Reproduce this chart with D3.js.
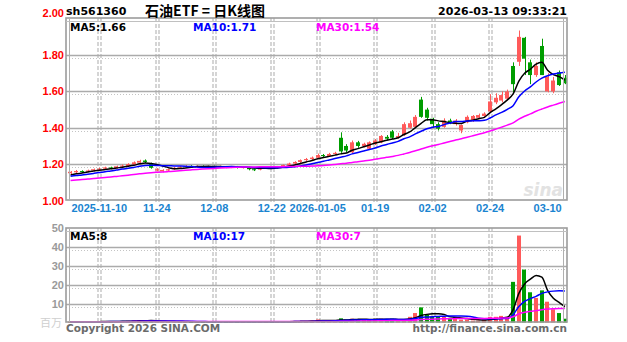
<!DOCTYPE html>
<html><head><meta charset="utf-8">
<script src="https://cdn.jsdelivr.net/npm/d3@7"></script>
<style>
body{margin:0;background:#fff}
svg{display:block;font-family:"DejaVu Sans",Arial,sans-serif}
</style>
</head><body><svg id="c" width="627" height="342"></svg>
<script>
// Daily K-line for sh561360, trading days 2025-11-03 .. 2026-03-13
const dates = [
 "2025-11-03","2025-11-04","2025-11-05","2025-11-06","2025-11-07","2025-11-10","2025-11-11","2025-11-12","2025-11-13","2025-11-14",
 "2025-11-17","2025-11-18","2025-11-19","2025-11-20","2025-11-21","2025-11-24","2025-11-25","2025-11-26","2025-11-27","2025-11-28",
 "2025-12-01","2025-12-02","2025-12-03","2025-12-04","2025-12-05","2025-12-08","2025-12-09","2025-12-10","2025-12-11","2025-12-12",
 "2025-12-15","2025-12-16","2025-12-17","2025-12-18","2025-12-19","2025-12-22","2025-12-23","2025-12-24","2025-12-25","2025-12-26",
 "2025-12-29","2025-12-30","2025-12-31","2026-01-05","2026-01-06","2026-01-07","2026-01-08","2026-01-09","2026-01-12","2026-01-13",
 "2026-01-14","2026-01-15","2026-01-16","2026-01-19","2026-01-20","2026-01-21","2026-01-22","2026-01-23","2026-01-26","2026-01-27",
 "2026-01-28","2026-01-29","2026-01-30","2026-02-02","2026-02-03","2026-02-04","2026-02-05","2026-02-06","2026-02-09","2026-02-10",
 "2026-02-11","2026-02-12","2026-02-13","2026-02-24","2026-02-25","2026-02-26","2026-02-27","2026-03-02","2026-03-03","2026-03-04",
 "2026-03-05","2026-03-06","2026-03-09","2026-03-10","2026-03-11","2026-03-12","2026-03-13"
];
const open = [
 1.150,1.155,1.162,1.158,1.165,1.170,1.175,1.182,1.178,1.186,
 1.190,1.198,1.208,1.220,1.205,1.165,1.160,1.165,1.172,1.180,
 1.186,1.190,1.186,1.190,1.185,1.188,1.184,1.188,1.183,1.186,
 1.182,1.184,1.172,1.170,1.178,1.182,1.180,1.186,1.195,1.203,
 1.212,1.222,1.228,1.235,1.250,1.244,1.256,1.345,1.300,1.265,
 1.320,1.300,1.285,1.310,1.320,1.350,1.380,1.345,1.360,1.400,
 1.405,1.555,1.500,1.450,1.420,1.405,1.440,1.420,1.385,1.430,
 1.440,1.455,1.465,1.490,1.540,1.550,1.560,1.740,1.763,1.895,
 1.760,1.690,1.850,1.600,1.600,1.705,1.675
];
const high = [
 1.162,1.168,1.166,1.170,1.176,1.180,1.186,1.186,1.192,1.198,
 1.205,1.215,1.224,1.226,1.208,1.178,1.172,1.176,1.184,1.190,
 1.195,1.194,1.194,1.193,1.192,1.192,1.192,1.190,1.190,1.190,
 1.188,1.186,1.176,1.182,1.186,1.186,1.190,1.198,1.208,1.216,
 1.226,1.234,1.242,1.258,1.256,1.262,1.268,1.375,1.310,1.330,
 1.328,1.318,1.325,1.338,1.360,1.360,1.388,1.372,1.430,1.440,
 1.470,1.570,1.510,1.455,1.430,1.452,1.450,1.448,1.418,1.468,
 1.470,1.478,1.485,1.585,1.590,1.600,1.610,1.760,1.935,1.900,
 1.775,1.760,1.890,1.700,1.680,1.715,1.690
];
const low = [
 1.145,1.150,1.152,1.155,1.160,1.165,1.170,1.172,1.175,1.182,
 1.186,1.195,1.204,1.206,1.175,1.160,1.155,1.160,1.168,1.176,
 1.182,1.182,1.182,1.180,1.180,1.180,1.178,1.178,1.178,1.176,
 1.176,1.166,1.162,1.166,1.174,1.176,1.176,1.182,1.190,1.198,
 1.206,1.216,1.222,1.230,1.236,1.240,1.250,1.262,1.265,1.260,
 1.290,1.292,1.280,1.305,1.315,1.332,1.338,1.340,1.355,1.395,
 1.400,1.455,1.440,1.400,1.385,1.400,1.420,1.412,1.370,1.425,
 1.432,1.448,1.460,1.485,1.530,1.540,1.550,1.590,1.740,1.690,
 1.640,1.680,1.690,1.595,1.590,1.630,1.640
];
const close = [
 1.158,1.162,1.157,1.165,1.172,1.175,1.182,1.178,1.188,1.192,
 1.200,1.210,1.218,1.212,1.180,1.172,1.168,1.172,1.180,1.186,
 1.190,1.186,1.190,1.185,1.188,1.184,1.188,1.183,1.186,1.182,
 1.184,1.172,1.168,1.178,1.182,1.180,1.186,1.195,1.203,1.212,
 1.222,1.228,1.236,1.250,1.244,1.256,1.262,1.270,1.275,1.320,
 1.300,1.312,1.320,1.330,1.355,1.340,1.345,1.355,1.420,1.425,
 1.460,1.460,1.455,1.420,1.395,1.440,1.430,1.440,1.415,1.460,
 1.465,1.470,1.478,1.545,1.565,1.580,1.600,1.640,1.900,1.780,
 1.690,1.740,1.690,1.680,1.660,1.635,1.645
];
// volume in millions
const volume = [
 0.4,0.5,0.3,0.4,0.6,0.5,0.7,0.4,0.6,0.8,
 0.9,1.0,1.2,0.8,1.1,0.6,0.5,0.4,0.5,0.6,
 0.4,0.3,0.4,0.3,0.3,0.4,0.3,0.4,0.3,0.3,
 0.4,0.6,0.5,0.4,0.3,0.3,0.4,0.5,0.6,0.7,
 0.8,0.7,0.9,1.6,1.0,0.9,1.2,2.2,1.5,2.0,
 1.4,1.5,1.8,1.6,2.0,1.5,2.0,1.0,1.5,3.0,
 5.0,8.0,4.0,3.0,3.0,3.0,2.5,2.0,1.5,1.5,
 1.0,1.0,1.5,3.0,3.0,3.5,3.0,21.5,46.0,28.0,
 16.0,13.0,17.0,11.0,7.0,5.0,2.0
];
// sessions before 2025-11-03, used only to seed the moving averages
const earlierCloses = [
 1.075,1.080,1.078,1.085,1.090,1.088,1.095,1.092,1.098,1.100,
 1.097,1.103,1.105,1.100,1.108,1.110,1.106,1.112,1.115,1.118,
 1.120,1.125,1.122,1.128,1.130,1.132,1.135,1.138,1.140
];
const earlierVolumes = [
 0.5,0.4,0.6,0.5,0.4,0.3,0.5,0.4,0.3,0.4,
 0.3,0.4,0.5,0.3,0.4,0.3,0.3,0.4,0.3,0.4,
 0.5,0.4,0.3,0.4,0.5,0.4,0.3,0.4,0.5
];
const priceTicks = [1.0, 1.2, 1.4, 1.6, 1.8, 2.0];
const volumeTicks = [10, 20, 30, 40, 50];
const tickDates = ["2025-11-10","2025-11-24","2025-12-08","2025-12-22","2026-01-05","2026-01-19","2026-02-02","2026-02-24","2026-03-10"];
const tickLabels = ["2025-11-10","11-24","12-08","12-22","2026-01-05","01-19","02-02","02-24","03-10"];
const maPeriods = [5, 10, 30];
const maColors = ["#000000", "#0000ff", "#ff00ff"];

const UP = "#ff5a5a", DOWN = "#009d00", GRID = "#ababab";
const svg = d3.select("#c");

const x = d3.scaleBand().domain(dates).range([68.4, 567]).paddingInner(0.25);
const cx = d => x(d) + x.bandwidth() / 2;
const yP = d3.scaleLinear().domain([1.0, 2.0]).range([200.5, 18.7]);
const yV = d3.scaleLinear().domain([0, 50]).range([322.5, 228]);

function movingAvg(series, earlier, n) {
  const all = earlier.concat(series);
  const off = earlier.length;
  return series.map((_, i) => d3.mean(all.slice(off + i - n + 1, off + i + 1)));
}
const priceMA = maPeriods.map(n => movingAvg(close, earlierCloses, n));
const volMA = maPeriods.map(n => movingAvg(volume, earlierVolumes, n));

const panels = [
  {top: 18, bottom: 200, y: yP},
  {top: 228, bottom: 322, y: yV}
];

// grid
panels.forEach((p, k) => {
  const g = svg.append("g");
  const hv = k === 0 ? priceTicks.filter(v => v > 1.0 && v < 2.0) : volumeTicks.filter(v => v < 50);
  hv.forEach(v => {
    const yy = Math.round(p.y(v)) + 0.5;
    g.append("line").attr("x1", 66).attr("x2", 567).attr("y1", yy).attr("y2", yy)
      .attr("stroke", GRID).attr("stroke-width", 1.6);
    g.append("line").attr("x1", 66).attr("x2", 567).attr("y1", yy + 3).attr("y2", yy + 3)
      .attr("stroke", "#c4c4c4").attr("stroke-width", 1).attr("stroke-dasharray", "1,2");
  });
  tickDates.slice(0, -1).forEach(d => {
    const xx = Math.round(cx(d)) + 0.5;
    [-1.5, 1.5].forEach(o => {
      g.append("line").attr("x1", xx + o).attr("x2", xx + o).attr("y1", p.top).attr("y2", p.bottom + (k === 0 ? 3 : 0))
        .attr("stroke", GRID).attr("stroke-width", 1).attr("stroke-dasharray", "4,2");
    });
  });
});

// watermark
svg.append("text").attr("x", 563).attr("y", 196).attr("text-anchor", "end")
  .attr("font-size", 17).attr("font-weight", "bold").attr("font-style", "italic")
  .attr("fill", "#e2e2e2").text("sina");

// candles
const cg = svg.append("g");
dates.forEach((d, i) => {
  const up = close[i] >= open[i];
  const col = up ? UP : DOWN;
  const xm = Math.round(cx(d)) + 0.5;
  cg.append("line").attr("x1", xm).attr("x2", xm)
    .attr("y1", yP(high[i])).attr("y2", yP(low[i])).attr("stroke", col).attr("stroke-width", 1);
  const y0 = yP(Math.max(open[i], close[i])), y1 = yP(Math.min(open[i], close[i]));
  cg.append("rect").attr("x", Math.round(x(d))).attr("width", Math.max(3, Math.round(x.bandwidth())))
    .attr("y", y0).attr("height", Math.max(1, y1 - y0)).attr("fill", col);
});

// volume bars
const vg = svg.append("g");
dates.forEach((d, i) => {
  const up = close[i] >= open[i];
  vg.append("rect").attr("x", Math.round(x(d))).attr("width", Math.max(3, Math.round(x.bandwidth())))
    .attr("y", yV(volume[i])).attr("height", Math.max(1, yV(0) - yV(volume[i])))
    .attr("fill", up ? UP : DOWN);
});

// moving average lines
[priceMA, volMA].forEach((set, k) => {
  const yy = k === 0 ? yP : yV;
  const line = d3.line().x((v, i) => cx(dates[i])).y(v => yy(v)).curve(d3.curveMonotoneX);
  set.forEach((vals, j) => {
    svg.append("path").attr("d", line(vals)).attr("fill", "none")
      .attr("stroke", maColors[j]).attr("stroke-width", 1.5);
  });
});

// frames (double rule)
panels.forEach(p => {
  svg.append("rect").attr("x", 66).attr("y", p.top).attr("width", 501).attr("height", p.bottom - p.top)
    .attr("fill", "none").attr("stroke", "#9c9c9c").attr("stroke-width", 1.6);
  svg.append("line").attr("x1", 69.5).attr("x2", 69.5).attr("y1", p.top).attr("y2", p.bottom).attr("stroke", "#b0b0b0");
  svg.append("line").attr("x1", 563.5).attr("x2", 563.5).attr("y1", p.top).attr("y2", p.bottom).attr("stroke", "#b0b0b0");
  svg.append("line").attr("x1", 66).attr("x2", 567).attr("y1", p.top + 3.5).attr("y2", p.top + 3.5).attr("stroke", "#c0c0c0");
});

// price axis
const ax = svg.append("g").attr("transform", "translate(64,0)")
  .call(d3.axisLeft(yP).tickValues(priceTicks).tickSize(0).tickFormat(d3.format(".2f")));
ax.select(".domain").remove();
ax.selectAll("text").attr("fill", "#ff0000").attr("font-size", 11).attr("font-weight", "bold")
  .attr("dy", v => v === 2.0 ? "-0.2em" : "0.32em").attr("x", 0);

// volume axis
const av = svg.append("g").attr("transform", "translate(64,0)")
  .call(d3.axisLeft(yV).tickValues(volumeTicks).tickSize(0));
av.select(".domain").remove();
av.selectAll("text").attr("fill", "#9a9a9a").attr("font-size", 11).attr("font-weight", "bold").attr("x", 0);
svg.append("text").attr("x", 62).attr("y", 327).attr("text-anchor", "end")
  .attr("font-size", 11).attr("fill", "#cfcfcf").attr("font-family", "Noto Sans CJK SC").text("百万");

// date axis
const labelOf = new Map(tickDates.map((d, i) => [d, tickLabels[i]]));
const xa = svg.append("g").attr("transform", "translate(0,207)")
  .call(d3.axisBottom(x).tickValues(tickDates).tickSize(0).tickFormat(d => labelOf.get(d)));
xa.select(".domain").remove();
xa.selectAll(".tick").attr("transform", d => `translate(${cx(d)},0)`);
xa.selectAll("text").attr("fill", "#1a84d0").attr("font-size", 11).attr("font-weight", "bold").attr("dy", "0.2em");

// headers
const last = dates.length - 1;
svg.append("text").attr("x", 66).attr("y", 15).attr("font-size", 11).attr("font-weight", "bold").text("sh561360");
svg.append("text").attr("x", 205).attr("y", 16).attr("text-anchor", "middle").attr("font-size", 14)
  .attr("font-weight", "bold").attr("font-family", "Noto Sans CJK SC").text("石油ETF = 日K线图");
svg.append("text").attr("x", 567).attr("y", 15).attr("text-anchor", "end").attr("font-size", 11)
  .attr("font-weight", "bold").text("2026-03-13 09:33:21");

const maX = [70, 193, 316];
maPeriods.forEach((n, j) => {
  svg.append("text").attr("x", maX[j]).attr("y", 31).attr("font-size", 10.5).attr("font-weight", "bold")
    .attr("fill", maColors[j]).text(`MA${n}:${priceMA[j][last].toFixed(2)}`);
  svg.append("text").attr("x", maX[j]).attr("y", 240).attr("font-size", 10.5).attr("font-weight", "bold")
    .attr("fill", maColors[j]).text(`MA${n}:${Math.round(volMA[j][last])}`);
});

// footer
svg.append("text").attr("x", 66).attr("y", 332).attr("font-size", 10.5).attr("fill", "#6a6a6a")
  .attr("font-weight", "bold").text("Copyright 2026 SINA.COM");
svg.append("text").attr("x", 567).attr("y", 332).attr("text-anchor", "end").attr("font-size", 10.5)
  .attr("fill", "#6a6a6a").attr("font-weight", "bold").text("http://finance.sina.com.cn");
</script></body></html>
